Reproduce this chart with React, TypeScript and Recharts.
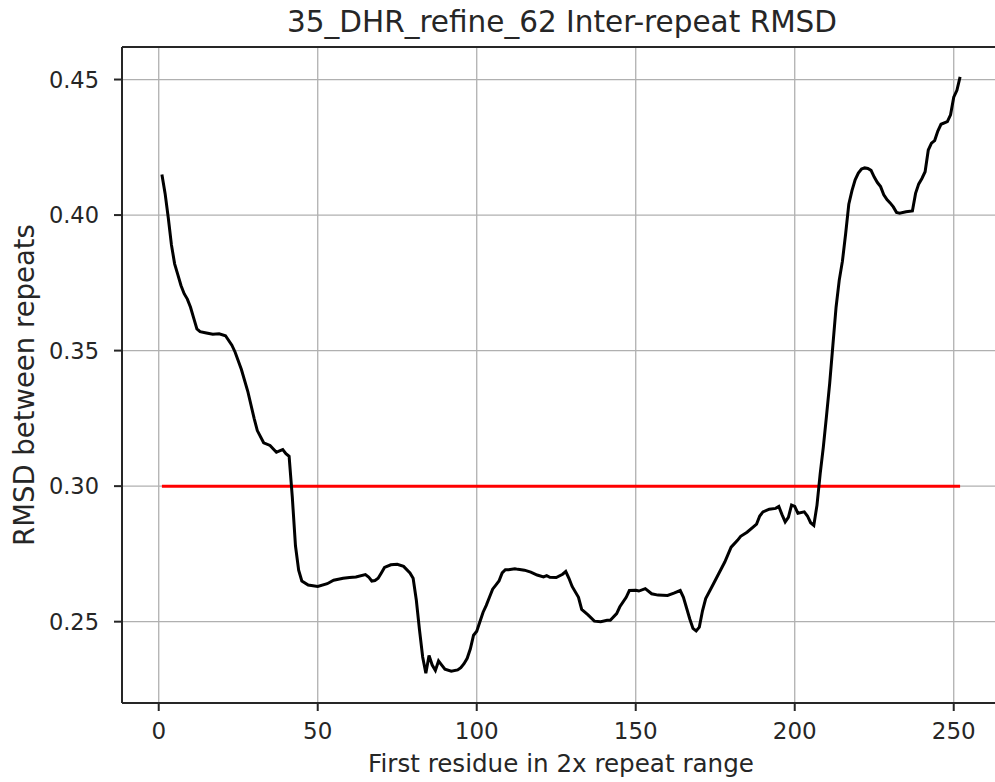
import { LineChart, Line, XAxis, YAxis, CartesianGrid, ReferenceLine } from "recharts";

const residues = [
  1, 2, 3, 4, 5, 6, 7, 8, 9, 10, 11, 12, 13, 15, 17, 19, 21, 23, 24, 26, 28, 30, 31, 33, 35, 37, 38, 39, 40, 41,
  42, 43, 44, 45, 47, 50, 53, 55, 58, 60, 62, 65, 66, 67, 68, 69, 70, 71, 73, 75, 77, 79, 80, 81, 82, 83, 84, 85,
  86, 87, 88, 89, 90, 92, 94, 95, 96, 97, 98, 99, 100, 101, 102, 103, 104, 105, 106, 107, 108, 109, 110, 112, 113,
  115, 117, 119, 121, 122, 123, 125, 127, 128, 129, 130, 132, 133, 135, 137, 139, 141, 142, 144, 145, 147, 148, 150,
  151, 153, 155, 157, 160, 162, 164, 165, 167, 168, 169, 170, 171, 172, 174, 176, 178, 180, 182, 183, 185, 187, 188,
  189, 190, 192, 194, 195, 196, 197, 198, 199, 200, 201, 203, 204, 205, 206, 207, 208, 209, 210, 211, 212, 213, 214,
  215, 216, 217, 218, 219, 220, 221, 222, 223, 224, 225, 226, 227, 228, 229, 230, 231, 232, 233, 235, 237, 238, 239,
  240, 241, 242, 243, 244, 245, 246, 248, 249, 250, 251, 252,
];

const rmsd = [
  0.415, 0.408, 0.399, 0.389, 0.382, 0.378, 0.374, 0.371, 0.369, 0.366, 0.362, 0.358, 0.357, 0.3565, 0.356, 0.3562,
  0.3555, 0.352, 0.3495, 0.343, 0.335, 0.325, 0.3205, 0.316, 0.315, 0.3125, 0.313, 0.3135, 0.312, 0.311,
  0.296, 0.278, 0.269, 0.265, 0.2635, 0.263, 0.264, 0.2653, 0.266, 0.2663, 0.2665, 0.2674, 0.2665, 0.265, 0.2652,
  0.266, 0.268, 0.27, 0.271, 0.2712, 0.2704, 0.268, 0.266, 0.258, 0.247, 0.237, 0.231, 0.2375,
  0.234, 0.232, 0.2355, 0.234, 0.2325, 0.2317, 0.2322, 0.233, 0.2345, 0.2365, 0.24, 0.245, 0.2465, 0.25, 0.2535,
  0.256, 0.259, 0.262, 0.2635, 0.265, 0.268, 0.2692, 0.2692, 0.2695, 0.2693,
  0.269, 0.2683, 0.2672, 0.2665, 0.267, 0.2664, 0.2663, 0.2675, 0.2685, 0.266, 0.263, 0.259, 0.2545, 0.2525, 0.2502,
  0.25, 0.2505, 0.2505, 0.253, 0.2555, 0.259, 0.2615, 0.2616,
  0.2613, 0.2622, 0.2603, 0.2598, 0.2597, 0.2605, 0.2615, 0.259, 0.251, 0.2475, 0.2466, 0.248, 0.254, 0.2585, 0.263,
  0.2675, 0.272, 0.2775, 0.28, 0.2815, 0.283, 0.285, 0.286,
  0.289, 0.2905, 0.2915, 0.2918, 0.2925, 0.2895, 0.2868, 0.2885, 0.293, 0.2925, 0.29, 0.2905, 0.289, 0.2865, 0.2855,
  0.293, 0.3045, 0.3145, 0.326, 0.338, 0.352, 0.366, 0.376,
  0.383, 0.393, 0.404, 0.409, 0.413, 0.4155, 0.417, 0.4174, 0.4172, 0.4165, 0.414, 0.412, 0.4105, 0.4075, 0.4057,
  0.4045, 0.403, 0.401, 0.4007, 0.4012, 0.4015, 0.408, 0.4115,
  0.4135, 0.416, 0.424, 0.4265, 0.4275, 0.431, 0.4335, 0.4345, 0.437, 0.4435, 0.446, 0.451,
];

const thresholdX = [1, 252];
const thresholdValue = 0.3;

const xTicks = [0, 50, 100, 150, 200, 250];
const yTicks = [0.25, 0.3, 0.35, 0.4, 0.45];

const data = residues.map((r, i) => ({ residue: r, rmsd: rmsd[i] }));
const thresholdData = thresholdX.map((r) => ({ residue: r, threshold: thresholdValue }));

// matplotlib-style 5% margins around the data
const X_MIN = -11.55;
const X_MAX = 264.55;
const Y_MIN = 0.22;
const Y_MAX = 0.462;

const font = "'DejaVu Sans', sans-serif";
const textColor = "#262626";

export default function App() {
  return (
    <div
      style={{
        position: "absolute",
        left: 0,
        top: 0,
        width: 995,
        height: 782,
        overflow: "hidden",
        background: "#fff",
        fontFamily: font,
      }}
    >
      <LineChart
        width={1010}
        height={782}
        margin={{ top: 47, right: 10, bottom: 19, left: 0 }}
        style={{ position: "absolute", left: 0, top: 0 }}
      >
        <CartesianGrid stroke="#b0b0b0" strokeWidth={1.3} />
        <XAxis
          dataKey="residue"
          type="number"
          domain={[X_MIN, X_MAX]}
          ticks={xTicks}
          allowDataOverflow
          height={60}
          tickSize={8}
          tickMargin={12}
          stroke="#262626"
          strokeWidth={2}
          tick={{ fill: textColor, fontSize: 23, fontFamily: font }}
        />
        <YAxis
          type="number"
          domain={[Y_MIN, Y_MAX]}
          ticks={yTicks}
          allowDataOverflow
          width={122}
          tickSize={8}
          tickMargin={15}
          stroke="#262626"
          strokeWidth={2}
          tickFormatter={(v: number) => v.toFixed(2)}
          tick={{ fill: textColor, fontSize: 22.5, fontFamily: font }}
        />
        <ReferenceLine y={Y_MAX} stroke="#262626" strokeWidth={2} />
        <Line
          data={thresholdData}
          dataKey="threshold"
          stroke="#ff0000"
          strokeWidth={3}
          dot={false}
          isAnimationActive={false}
        />
        <Line
          data={data}
          dataKey="rmsd"
          type="linear"
          stroke="#000000"
          strokeWidth={3}
          dot={false}
          isAnimationActive={false}
        />
      </LineChart>
      <svg width={995} height={782} style={{ position: "absolute", left: 0, top: 0, pointerEvents: "none" }}>
        <text x={562} y={32} textAnchor="middle" fontSize={29.5} fill={textColor} fontFamily={font}>
          35_DHR_refine_62 Inter-repeat RMSD
        </text>
        <text x={561} y={772} textAnchor="middle" fontSize={24.6} fill={textColor} fontFamily={font}>
          First residue in 2x repeat range
        </text>
        <text
          x={0}
          y={0}
          transform="translate(34, 385) rotate(-90)"
          textAnchor="middle"
          fontSize={27.5}
          fill={textColor}
          fontFamily={font}
        >
          RMSD between repeats
        </text>
      </svg>
    </div>
  );
}
